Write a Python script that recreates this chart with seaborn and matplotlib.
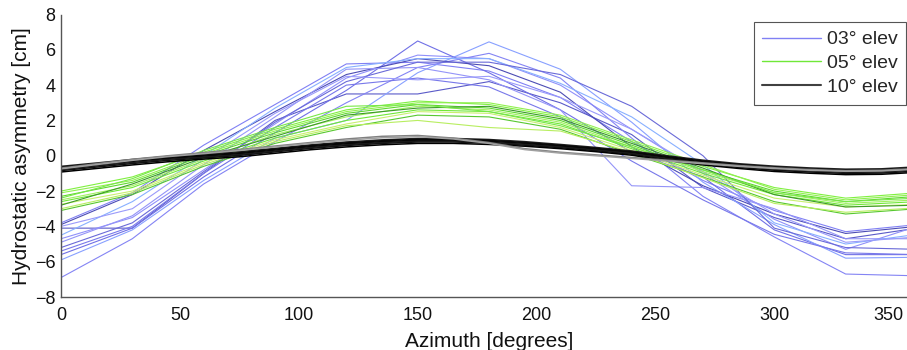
import numpy as np
import pandas as pd
import seaborn as sns
import matplotlib
matplotlib.use("Agg")
import matplotlib.pyplot as plt
from matplotlib.lines import Line2D
import matplotlib.transforms as mtransforms

# ---------------- data ----------------
azimuth_30 = [0, 30, 60, 90, 120, 150, 180, 210, 240, 270, 300, 330, 360]
azimuth_15 = [0, 15, 30, 45, 60, 75, 90, 105, 120, 135, 150, 165, 180,
              195, 210, 225, 240, 255, 270, 285, 300, 315, 330, 345, 360]

# 03 deg elevation (blue)
elev03 = [
    [-3.8, -2.1, 0.6, 2.9, 5.2, 5.3, 4.8, 3.3, 0.8, -1.4, -3.1, -4.3, -3.9],
    [-4.1, -4.1, -1.0, 2.0, 3.5, 3.5, 4.2, 3.0, 1.2, -1.8, -3.5, -4.7, -4.1],
    [-4.7, -3.5, -0.8, 1.8, 4.4, 5.7, 5.5, 4.0, 1.5, -1.0, -3.6, -5.3, -4.0],
    [-5.6, -4.1, -1.2, 1.3, 3.7, 6.5, 4.7, 2.6, 0.2, -1.2, -4.2, -5.6, -5.6],
    [-5.9, -4.2, -1.4, 1.0, 2.0, 4.7, 6.45, 4.9, 1.9, -1.5, -3.9, -5.8, -5.75],
    [-6.9, -4.7, -1.6, 0.8, 3.0, 5.0, 5.8, 4.4, 1.0, -2.3, -4.6, -6.7, -6.8],
    [-3.9, -2.2, 0.3, 2.5, 4.6, 5.5, 5.1, 3.6, 0.5, -1.7, -3.3, -4.4, -4.0],
    [-4.9, -3.4, -0.5, 2.2, 4.9, 5.0, 4.3, 2.6, -1.7, -1.8, -3.0, -4.7, -4.7],
    [-5.4, -4.0, -1.0, 1.6, 4.0, 4.4, 3.9, 2.2, -0.3, -2.5, -4.45, -5.5, -5.6],
    [-4.5, -2.6, 0.0, 2.7, 5.0, 5.5, 5.5, 4.1, 2.2, -0.5, -3.8, -5.0, -4.45],
    [-5.2, -3.8, -0.9, 1.9, 4.2, 5.3, 5.3, 4.6, 2.8, 0.0, -4.1, -5.2, -5.3],
    [-4.0, -3.0, -0.2, 2.4, 4.5, 4.3, 4.5, 3.3, 1.5, -0.9, -3.3, -4.9, -4.6],
]

# 05 deg elevation (green)
elev05 = [
    [-2.0, -1.2, 0.2, 1.5, 2.6, 3.1, 2.9, 2.2, 0.8, -0.6, -1.8, -2.4, -2.1],
    [-2.3, -1.5, 0.0, 1.3, 2.4, 2.9, 2.7, 2.0, 0.6, -0.8, -2.0, -2.6, -2.3],
    [-2.5, -1.7, -0.2, 1.2, 2.2, 2.8, 2.6, 1.9, 0.5, -0.9, -2.1, -2.7, -2.5],
    [-2.6, -1.8, -0.3, 1.0, 2.0, 2.6, 2.5, 1.8, 0.4, -1.0, -2.2, -2.8, -2.6],
    [-2.75, -2.0, -0.4, 0.9, 1.8, 2.5, 2.4, 1.6, 0.3, -1.1, -2.4, -2.9, -2.75],
    [-3.1, -2.2, -0.6, 0.7, 1.6, 2.3, 2.2, 1.5, 0.1, -1.2, -2.6, -3.3, -3.0],
    [-2.1, -1.4, 0.1, 1.4, 2.5, 3.0, 3.0, 2.3, 0.9, -0.5, -1.9, -2.5, -2.2],
    [-2.8, -1.6, -0.1, 1.1, 2.3, 2.7, 2.8, 2.1, 0.7, -0.7, -2.2, -2.9, -2.8],
    [-3.0, -2.1, -0.5, 0.8, 1.7, 2.0, 1.6, 1.4, 0.2, -1.25, -2.7, -3.2, -2.95],
    [-2.4, -1.3, 0.3, 1.6, 2.8, 2.9, 2.5, 1.7, 0.5, -0.8, -2.1, -2.6, -2.4],
]

# 10 deg elevation (black)
elev10 = [
    [-0.72, -0.52, -0.32, -0.15, -0.02, 0.12, 0.32, 0.52, 0.68, 0.80, 0.88, 0.88, 0.82,
     0.70, 0.55, 0.38, 0.18, -0.10, -0.35, -0.55, -0.70, -0.80, -0.87, -0.85, -0.75],
    [-0.84, -0.64, -0.44, -0.26, -0.12, 0.02, 0.22, 0.42, 0.58, 0.70, 0.78, 0.78, 0.72,
     0.60, 0.46, 0.29, 0.09, -0.20, -0.46, -0.66, -0.82, -0.92, -1.00, -0.98, -0.87],
    [-0.60, -0.41, -0.21, -0.04, 0.09, 0.23, 0.42, 0.62, 0.78, 0.90, 0.98, 0.98, 0.92,
     0.80, 0.64, 0.47, 0.27, 0.00, -0.25, -0.45, -0.59, -0.69, -0.76, -0.74, -0.63],
    [-0.92, -0.72, -0.52, -0.34, -0.19, -0.06, 0.14, 0.34, 0.50, 0.62, 0.70, 0.70, 0.64,
     0.54, 0.40, 0.23, 0.03, -0.27, -0.52, -0.72, -0.89, -0.99, -1.07, -1.05, -0.94],
    [-0.78, -0.58, -0.38, -0.20, -0.07, 0.07, 0.27, 0.47, 0.63, 0.75, 0.83, 0.83, 0.77,
     0.65, 0.51, 0.34, 0.14, -0.15, -0.40, -0.60, -0.76, -0.86, -0.94, -0.92, -0.81],
    [-0.66, -0.46, -0.27, -0.10, 0.03, 0.17, 0.37, 0.57, 0.73, 0.85, 0.93, 0.93, 0.87,
     0.75, 0.59, 0.42, 0.22, -0.05, -0.30, -0.50, -0.65, -0.75, -0.82, -0.80, -0.69],
    [-0.70, -0.45, -0.20, 0.00, 0.18, 0.35, 0.55, 0.75, 0.95, 1.10, 1.15, 1.00, 0.75,
     0.40, 0.20, 0.05, -0.10, -0.25, -0.40, -0.55, -0.68, -0.78, -0.85, -0.82, -0.72],
    [-0.74, -0.50, -0.26, -0.05, 0.12, 0.30, 0.50, 0.70, 0.88, 1.02, 1.08, 0.95, 0.70,
     0.35, 0.15, 0.00, -0.15, -0.30, -0.45, -0.60, -0.72, -0.82, -0.88, -0.86, -0.76],
]

labels = ["03° elev", "05° elev", "10° elev"]

# ---------------- styling ----------------
blue_shades = ["#8080f4", "#5a5ac8", "#9090fa", "#7070e6", "#88a0ff", "#8484f4",
               "#4c4cb4", "#9494f8", "#7878ea", "#88b0ff", "#6a6ad8", "#9a9afa"]
green_shades = ["#80f040", "#60d830", "#a0f060", "#70e838", "#c8f070", "#58c830",
                "#90f050", "#3c9a28", "#b8ee60", "#78e848"]
black_shades = ["#000000", "#101010", "#202020", "#000000", "#181818", "#080808",
                "#808080", "#a0a0a0"]

frames = []
colors = {}
for i, vals in enumerate(elev03):
    key = f"b{i}"
    frames.append(pd.DataFrame({"az": azimuth_30, "val": vals, "line": key}))
    colors[key] = blue_shades[i % len(blue_shades)]
for i, vals in enumerate(elev05):
    key = f"g{i}"
    frames.append(pd.DataFrame({"az": azimuth_30, "val": vals, "line": key}))
    colors[key] = green_shades[i % len(green_shades)]
for i, vals in enumerate(elev10):
    key = f"k{i}"
    frames.append(pd.DataFrame({"az": azimuth_15, "val": vals, "line": key}))
    colors[key] = black_shades[i % len(black_shades)]
df = pd.concat(frames, ignore_index=True)

sns.set_theme(style="white")
plt.rcParams["font.family"] = ["Liberation Sans", "DejaVu Sans"]
plt.rcParams["font.size"] = 14

fig = plt.figure(figsize=(9.07, 3.5), dpi=100)
ax = fig.add_axes([61 / 907, 53 / 350, (917 - 61) / 907, 282.5 / 350])

sns.lineplot(data=df, x="az", y="val", hue="line", units="line", estimator=None,
             palette=colors, linewidth=0.8, legend=False, ax=ax, sort=False)
for ln in ax.get_lines():
    if ln.get_color() in black_shades:
        ln.set_linewidth(1.1)

ax.set_xlim(0, 360)
ax.set_ylim(-8, 8)
ax.set_xticks([0, 50, 100, 150, 200, 250, 300, 350])
ax.set_yticks([-8, -6, -4, -2, 0, 2, 4, 6, 8])
ax.set_xlabel("Azimuth [degrees]", fontsize=15, color="#111111", labelpad=6)
ax.set_ylabel("Hydrostatic asymmetry [cm]", fontsize=15, color="#111111", labelpad=3)
ax.tick_params(direction="in", length=5, width=0.8, color="#555555",
               labelsize=13, labelcolor="#111111")
ax.tick_params(axis="x", pad=7)
ax.tick_params(axis="y", pad=4)
for side in ["top", "right"]:
    ax.spines[side].set_visible(False)
for side in ["left", "bottom"]:
    ax.spines[side].set_color("#555555")
    ax.spines[side].set_linewidth(1.0)

# keep the last (edge) tick label inside the canvas
fig.canvas.draw()
last = ax.get_xticklabels()[-1]
last.set_transform(last.get_transform() +
                   mtransforms.ScaledTranslation(-5 / 100, 0, fig.dpi_scale_trans))

handles = [Line2D([0], [0], color="#8080f4", lw=1.0),
           Line2D([0], [0], color="#70e838", lw=1.0),
           Line2D([0], [0], color="#404040", lw=1.5)]
leg = fig.legend(handles, labels, loc="upper right", bbox_to_anchor=(0.999, 0.937),
                 bbox_transform=fig.transFigure, fontsize=14, frameon=True,
                 fancybox=False, framealpha=1, edgecolor="#555555",
                 handlelength=3.0, borderpad=0.45, labelspacing=0.32,
                 handletextpad=0.3, borderaxespad=0)
leg.get_frame().set_linewidth(0.8)

fig.savefig("out.png", dpi=100)
